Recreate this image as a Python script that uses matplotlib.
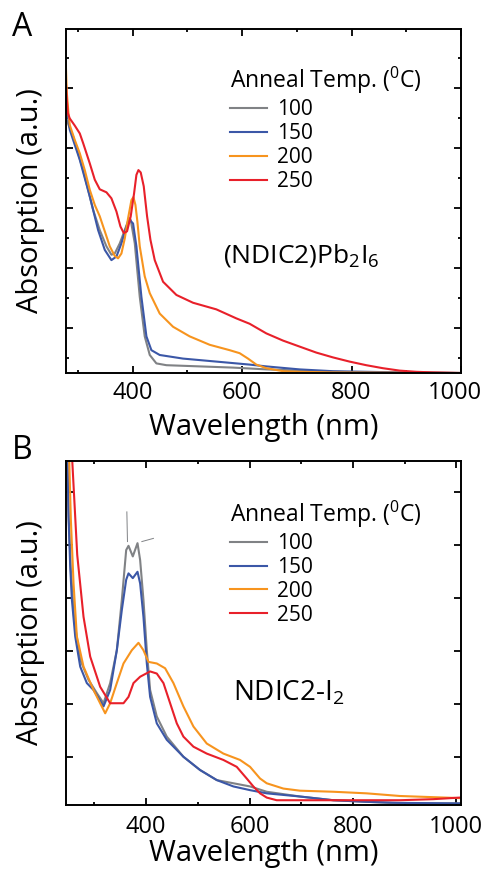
import numpy as np
import matplotlib
matplotlib.use("Agg")
import matplotlib.pyplot as plt
from matplotlib.ticker import FixedLocator, NullFormatter
from matplotlib.transforms import ScaledTranslation

plt.rcParams['font.family'] = ['Open Sans', 'DejaVu Sans']
plt.rcParams['mathtext.fontset'] = 'custom'
plt.rcParams['mathtext.rm'] = 'Open Sans'
plt.rcParams['mathtext.it'] = 'Open Sans:italic'
plt.rcParams['mathtext.bf'] = 'Open Sans:bold'

temps = ["100", "150", "200", "250"]
colors = ["#808285", "#3b57a7", "#f7941e", "#e8202a"]

# panel A: (NDIC2)Pb2I6 film, wavelength (nm) / absorption (a.u.)
a100_x = [277.6, 278.8, 291.0, 309.3, 327.5, 339.7, 351.9, 361.0, 367.1, 376.3, 385.4, 393.3, 396.3,
          403.7, 412.8, 421.9, 431.1, 443.2, 461.5, 491.9, 583.3, 644.1, 705.0, 765.9, 826.8, 999.1]
a100_y = [4.44, 4.22, 3.94, 3.38, 2.72, 2.38, 2.11, 1.97, 1.99, 2.16, 2.38, 2.58, 2.55,
          2.16, 1.27, 0.61, 0.30, 0.16, 0.13, 0.12, 0.09, 0.06, 0.04, 0.02, 0.01, 0.0]
a150_x = [277.6, 284.9, 303.2, 321.5, 336.7, 348.9, 361.0, 370.2, 379.3, 388.4, 394.5, 400.6, 406.7,
          415.8, 425.0, 434.1, 449.3, 491.9, 552.8, 613.7, 644.1, 705.0, 765.9, 826.8, 887.7, 999.1]
a150_y = [4.55, 4.05, 3.55, 2.94, 2.38, 2.05, 1.88, 1.94, 2.16, 2.44, 2.55, 2.49, 2.11,
          1.27, 0.61, 0.38, 0.30, 0.24, 0.19, 0.14, 0.11, 0.06, 0.03, 0.02, 0.01, 0.0]
a200_x = [277.6, 279.5, 282.5, 284.9, 294.1, 303.2, 312.3, 321.5, 330.6, 339.7, 348.9, 358.0, 367.1,
          373.2, 379.3, 385.4, 391.5, 397.6, 401.2, 404.9, 408.5, 412.8, 421.9, 431.1, 449.3, 473.7,
          504.1, 540.6, 577.2, 595.4, 610.7, 625.9, 644.1, 674.6, 705.0, 765.9, 999.1]
a200_y = [5.17, 4.67, 4.33, 4.13, 3.88, 3.66, 3.38, 3.05, 2.80, 2.61, 2.36, 2.11, 1.95,
          1.91, 1.99, 2.24, 2.58, 2.88, 2.93, 2.80, 2.52, 2.11, 1.61, 1.33, 0.99, 0.77,
          0.61, 0.47, 0.38, 0.33, 0.24, 0.14, 0.08, 0.03, 0.02, 0.01, 0.0]
a250_x = [277.6, 279.5, 281.3, 284.9, 294.1, 303.2, 309.3, 315.4, 321.5, 330.6, 339.7, 351.9, 361.0,
          370.2, 377.5, 383.6, 389.6, 396.3, 402.4, 406.7, 410.4, 414.6, 420.1, 426.2, 432.3, 440.2,
          455.4, 479.8, 510.2, 552.8, 589.3, 613.7, 644.1, 674.6, 705.0, 735.5, 765.9, 796.3, 826.8,
          857.2, 887.7, 918.1, 948.6, 999.1]
a250_y = [4.88, 4.55, 4.33, 4.24, 4.12, 3.99, 3.83, 3.66, 3.49, 3.22, 3.06, 3.01, 2.91,
          2.69, 2.44, 2.33, 2.36, 2.61, 2.99, 3.30, 3.38, 3.34, 3.11, 2.61, 2.22, 1.88,
          1.52, 1.30, 1.17, 1.06, 0.91, 0.82, 0.66, 0.54, 0.44, 0.34, 0.26, 0.19, 0.13,
          0.08, 0.04, 0.02, 0.01, 0.0]

# panel B: NDIC2-I2 film
b100_x = [246.7, 249.9, 254.4, 260.9, 272.5, 288.6, 304.7, 317.6, 330.4, 343.3, 353.0, 361.4, 365.9,
          374.2, 383.3, 388.4, 394.8, 401.3, 407.7, 420.6, 439.9, 472.1, 504.3, 536.6, 568.8, 601.0,
          633.2, 697.6, 762.0, 826.4, 890.8, 1006.8]
b100_y = [6.51, 5.50, 4.43, 3.49, 2.74, 2.36, 2.11, 1.92, 2.30, 2.92, 3.87, 4.81, 4.89,
          4.69, 4.94, 4.62, 3.87, 2.92, 2.17, 1.67, 1.29, 0.91, 0.66, 0.47, 0.41, 0.35,
          0.25, 0.16, 0.09, 0.06, 0.03, 0.03]
b150_x = [248.0, 249.9, 253.1, 256.4, 262.8, 272.5, 285.3, 298.2, 317.6, 330.4, 343.3, 353.0, 361.4,
          365.9, 374.2, 383.3, 388.4, 394.8, 401.3, 407.7, 420.6, 439.9, 472.1, 504.3, 536.6, 568.8,
          601.0, 633.2, 697.6, 762.0, 826.4, 890.8, 1006.8]
b150_y = [6.51, 5.44, 4.50, 3.87, 3.18, 2.61, 2.30, 2.17, 1.86, 2.17, 2.92, 3.68, 4.25,
          4.37, 4.28, 4.40, 4.18, 3.55, 2.67, 2.04, 1.54, 1.23, 0.91, 0.66, 0.47, 0.35,
          0.28, 0.22, 0.16, 0.09, 0.06, 0.04, 0.03]
b200_x = [251.2, 254.4, 259.6, 266.0, 278.9, 298.2, 320.8, 330.4, 343.3, 356.2, 372.3, 385.2, 394.8,
          404.5, 420.6, 436.7, 452.8, 472.1, 491.5, 517.2, 549.4, 581.6, 601.0, 620.3, 633.2, 665.4,
          697.6, 762.0, 826.4, 890.8, 1006.8]
b200_y = [6.51, 5.38, 4.18, 3.18, 2.61, 2.17, 1.73, 1.92, 2.30, 2.67, 2.92, 3.06, 2.92,
          2.70, 2.67, 2.58, 2.30, 1.86, 1.48, 1.16, 0.97, 0.85, 0.72, 0.50, 0.41, 0.31,
          0.27, 0.25, 0.22, 0.17, 0.13]
b250_x = [257.0, 266.7, 278.9, 291.8, 311.1, 330.4, 343.3, 356.2, 365.9, 375.5, 388.4, 407.7, 420.6,
          433.5, 446.4, 459.3, 472.1, 491.5, 517.2, 549.4, 575.2, 594.5, 607.4, 620.3, 633.2, 652.5,
          762.0, 890.8, 955.2, 1006.8]
b250_y = [6.51, 4.72, 3.55, 2.80, 2.23, 1.92, 1.92, 1.92, 2.04, 2.30, 2.42, 2.52, 2.48,
          2.30, 1.92, 1.54, 1.29, 1.10, 0.97, 0.85, 0.72, 0.50, 0.35, 0.22, 0.14, 0.09,
          0.09, 0.09, 0.11, 0.14]

# thin grey guide strokes near the NDIC2-I2 doublet
guide1_x = [362.7, 363.9]
guide1_y = [5.53, 4.97]
guide2_x = [391.7, 414.1]
guide2_y = [4.97, 5.03]

W, H = 483, 869
fig = plt.figure(figsize=(W / 100, H / 100), dpi=100)
axA = fig.add_axes([66 / W, (H - 373) / H, 395 / W, 344 / H])
axB = fig.add_axes([66 / W, (H - 805) / H, 395 / W, 344 / H])


def style_axes(ax, xlim, ylim, ymajor, yminor, xpad, xlabelpad):
    ax.set_xlim(*xlim)
    ax.set_ylim(*ylim)
    ax.set_xticks([400, 600, 800, 1000])
    ax.xaxis.set_minor_locator(FixedLocator([300, 500, 700, 900]))
    ax.set_yticks(ymajor)
    ax.yaxis.set_minor_locator(FixedLocator(yminor))
    ax.yaxis.set_minor_formatter(NullFormatter())
    ax.tick_params(which="both", direction="in", top=True, right=True, labelleft=False)
    ax.tick_params(which="major", length=5, width=1.3, labelsize=17, pad=xpad)
    ax.tick_params(which="minor", length=2.5, width=1.3)
    for s in ax.spines.values():
        s.set_linewidth(1.4)
    ax.set_xlabel("Wavelength (nm)", fontsize=21, labelpad=xlabelpad)
    ax.set_ylabel("Absorption (a.u.)", fontsize=21, labelpad=15)


def add_legend(ax, y):
    leg = ax.legend(title="Anneal Temp. ($^0$C)", loc="upper left", bbox_to_anchor=(0.415, y),
                    frameon=False, fontsize=15, title_fontsize=16.5, borderpad=0, borderaxespad=0,
                    handlelength=1.78, handletextpad=0.5, labelspacing=0.14, alignment="left")
    return leg


for xs, ys, c, t in zip([a100_x, a150_x, a200_x, a250_x], [a100_y, a150_y, a200_y, a250_y], colors, temps):
    axA.plot(xs, ys, color=c, lw=1.5, label=t)
for xs, ys, c, t in zip([b100_x, b150_x, b200_x, b250_x], [b100_y, b150_y, b200_y, b250_y], colors, temps):
    axB.plot(xs, ys, color=c, lw=1.5, label=t)
axB.plot(guide1_x, guide1_y, color="#808285", lw=0.7)
axB.plot(guide2_x, guide2_y, color="#808285", lw=0.7)

style_axes(axA, (278, 1000), (0, 5.73), [0.75, 1.75, 2.75, 3.75, 4.75],
           [0.25, 1.25, 2.25, 3.25, 4.25, 5.25], 5.5, 6)
style_axes(axB, (245, 1009), (0, 6.49), [0.9, 1.9, 2.9, 3.9, 4.9, 5.9], [], 7, 0.5)

# last tick label in A sits a little left of its tick
fig.canvas.draw()
labA = axA.xaxis.get_major_ticks()[-1].label1
labA.set_transform(labA.get_transform() + ScaledTranslation(-0.06, 0, fig.dpi_scale_trans))

add_legend(axA, 0.895)
add_legend(axB, 0.89)

axA.text(0.397, 0.32, "(NDIC2)Pb$_2$I$_6$", transform=axA.transAxes, fontsize=19, va="baseline")
axB.text(0.423, 0.305, "NDIC2-I$_2$", transform=axB.transAxes, fontsize=20, va="baseline")

fig.text(22 / W, 1 - 28 / H, "A", fontsize=23, ha="center", va="center")
fig.text(22 / W, 1 - 450 / H, "B", fontsize=23, ha="center", va="center")

fig.savefig("out.png", dpi=100)
